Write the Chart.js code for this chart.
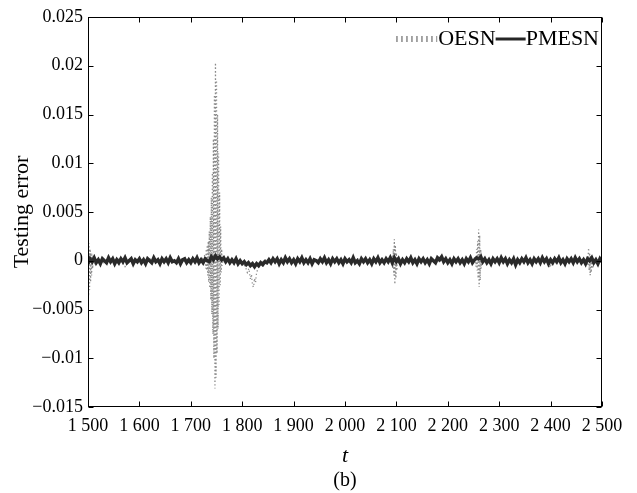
<!DOCTYPE html>
<html lang="en">
<head>
<meta charset="UTF-8">
<title>Testing error</title>
<style>
  html, body { margin: 0; padding: 0; background: #fff; }
  #wrap { width: 637px; height: 493px; }
</style>
</head>
<body>
<div id="wrap"><canvas id="myChart" width="637" height="493"></canvas></div>
<script src="https://cdn.jsdelivr.net/npm/chart.js@4.4.1/dist/chart.umd.min.js"></script>
<script>
// PMESN testing error, sampled every 4 steps from t = 1500 to 2500
const pmesnStart = 1500, pmesnStep = 4;
const pmesnErr = [
  -0.0003, 0.0002, -0.0001, 0.0003, -0.0002, 0.0001, -0.0003, 0.0002, 0.0000, -0.0002, 0.0003, -0.0001, 0.0002, -0.0003, 0.0001, -0.0002, 0.0002, -0.0001, 0.0003, -0.0002, 0.0000, 0.0002, -0.0003, 0.0001, -0.0001,
  0.0002, -0.0002, 0.0001, -0.0003, 0.0002, 0.0000, -0.0002, 0.0003, -0.0001, 0.0001, -0.0003, 0.0002, -0.0001, 0.0002, -0.0002, 0.0003, -0.0001, 0.0000, -0.0002, 0.0002, -0.0003, 0.0001, 0.0002, -0.0002, 0.0001,
  -0.0002, 0.0002, -0.0001, 0.0003, -0.0002, 0.0001, -0.0002, 0.0002, 0.0000, -0.0001, 0.0004, 0.0001, 0.0005, 0.0002, 0.0004, 0.0001, 0.0003, -0.0001, 0.0002, -0.0002, 0.0001, -0.0002, 0.0002, -0.0003, 0.0000,
  -0.0003, -0.0001, -0.0004, -0.0002, -0.0005, -0.0003, -0.0006, -0.0003, -0.0005, -0.0002, -0.0004, -0.0001, -0.0002, 0.0001, -0.0002, 0.0002, -0.0001, 0.0002, -0.0003, 0.0001, -0.0002, 0.0003, -0.0001, 0.0002, -0.0002,
  0.0001, -0.0003, 0.0002, -0.0001, 0.0003, -0.0002, 0.0001, -0.0002, 0.0002, -0.0003, 0.0001, 0.0000, -0.0002, 0.0002, -0.0001, 0.0003, -0.0002, 0.0001, -0.0003, 0.0002, -0.0001, 0.0002, -0.0002, 0.0001, -0.0003,
  0.0002, -0.0001, 0.0001, -0.0002, 0.0003, -0.0002, 0.0000, -0.0003, 0.0002, -0.0001, 0.0002, -0.0002, 0.0001, -0.0003, 0.0002, -0.0001, 0.0003, -0.0002, 0.0001, -0.0002, 0.0002, -0.0001, 0.0003, -0.0002, 0.0003,
  -0.0001, 0.0002, -0.0003, 0.0001, -0.0002, 0.0002, -0.0001, 0.0003, -0.0002, 0.0001, -0.0003, 0.0002, -0.0001, 0.0002, -0.0002, 0.0001, -0.0003, 0.0002, 0.0000, -0.0002, 0.0003, 0.0001, 0.0004, -0.0001, 0.0002,
  -0.0002, 0.0001, -0.0003, 0.0002, -0.0001, 0.0002, -0.0002, 0.0001, -0.0003, 0.0002, -0.0001, 0.0003, -0.0002, 0.0001, 0.0003, 0.0002, 0.0004, -0.0001, 0.0002, -0.0002, 0.0001, -0.0003, 0.0002, -0.0001, 0.0002,
  -0.0002, 0.0003, -0.0001, 0.0002, -0.0003, 0.0001, -0.0002, 0.0002, -0.0004, 0.0001, -0.0002, 0.0002, -0.0001, 0.0003, -0.0002, 0.0001, -0.0003, 0.0002, -0.0001, 0.0002, -0.0002, 0.0003, -0.0001, 0.0002, -0.0003,
  0.0001, -0.0002, 0.0002, -0.0001, 0.0003, -0.0002, 0.0001, -0.0003, 0.0002, -0.0001, 0.0002, -0.0002, 0.0003, -0.0001, 0.0002, -0.0002, 0.0001, -0.0003, 0.0002, 0.0000, 0.0003, -0.0002, 0.0001, -0.0003, 0.0002,
  -0.0001
];

// OESN testing error: sparse where it is quiet, every step around the bursts
const oesnT = [
  1500, 1501, 1502, 1503, 1504, 1505, 1506, 1507, 1508, 1509, 1510, 1512,
  1520, 1530, 1540, 1550, 1560, 1572, 1580, 1590, 1600, 1610, 1620, 1630, 1640, 1650, 1660, 1670, 1680, 1690, 1700, 1710, 1720,
  1728, 1729, 1730, 1731, 1732, 1733, 1734, 1735, 1736, 1737, 1738, 1739, 1740, 1741, 1742, 1743, 1744, 1745, 1746, 1747, 1748, 1749, 1750, 1751, 1752, 1753, 1754, 1755, 1756, 1757, 1758, 1759, 1760, 1761, 1763,
  1770, 1780, 1790, 1800, 1806, 1810, 1813, 1816, 1818, 1820, 1822, 1824, 1826, 1828, 1831, 1835, 1845, 1855,
  1865, 1875, 1885, 1895, 1905, 1915, 1925, 1935, 1945, 1955, 1965, 1975, 1985, 1995, 2005, 2015, 2025, 2035, 2045, 2055, 2065, 2075, 2085,
  2092, 2093, 2094, 2095, 2096, 2097, 2098, 2099, 2100, 2101, 2102, 2104,
  2110, 2120, 2130, 2140, 2150, 2160, 2170, 2180, 2190, 2200, 2210, 2220, 2230, 2240, 2248,
  2254, 2255, 2256, 2257, 2258, 2259, 2260, 2261, 2262, 2263, 2264, 2265, 2266, 2268,
  2275, 2285, 2295, 2305, 2315, 2325, 2335, 2345, 2355, 2365, 2375, 2385, 2395, 2399, 2403,
  2410, 2420, 2430, 2440, 2450, 2460, 2470, 2472, 2474, 2475, 2476, 2477, 2478, 2479, 2480, 2482, 2485, 2490, 2495, 2500
];
const oesnErr = [
  0.0025, -0.0036, 0.0018, -0.0030, 0.0012, -0.0022, 0.0008, -0.0015, 0.0004, -0.0008, 0.0002, -0.0004,
  0.0001, -0.0002, 0.0002, -0.0001, 0.0002, -0.0006, 0.0001, -0.0002, 0.0001, -0.0002, 0.0002, -0.0001, 0.0001, -0.0002, 0.0002, -0.0001, 0.0002, -0.0002, 0.0001, -0.0002, 0.0001,
  0.0006, -0.0008, 0.0012, -0.0010, 0.0016, -0.0015, 0.0020, -0.0022, 0.0030, -0.0028, 0.0045, -0.0040, 0.0065, -0.0055, 0.0090, -0.0075, 0.0125, -0.0100, 0.0170, -0.0131, 0.0203, -0.0120, 0.0185, -0.0095, 0.0150, -0.0070, 0.0110, -0.0045, 0.0070, -0.0025, 0.0035, -0.0012, 0.0012, -0.0005, 0.0002,
  0.0002, -0.0001, 0.0002, -0.0002, -0.0006, -0.0012, -0.0008, -0.0019, -0.0014, -0.0025, -0.0027, -0.0018, -0.0022, -0.0012, -0.0008, -0.0003, 0.0001, -0.0002,
  0.0001, -0.0002, 0.0002, -0.0001, 0.0001, -0.0002, 0.0002, -0.0001, 0.0002, -0.0002, 0.0001, -0.0001, 0.0002, -0.0002, 0.0001, -0.0002, 0.0002, -0.0001, 0.0001, -0.0002, 0.0002, -0.0001, 0.0001,
  0.0004, -0.0008, 0.0012, -0.0015, 0.0022, -0.0024, 0.0016, -0.0018, 0.0008, -0.0010, 0.0004, -0.0002,
  0.0001, -0.0002, 0.0002, -0.0001, 0.0001, -0.0002, 0.0002, -0.0001, 0.0002, -0.0002, 0.0001, -0.0002, 0.0002, -0.0001, 0.0001,
  0.0004, -0.0006, 0.0012, -0.0010, 0.0020, -0.0018, 0.0032, -0.0027, 0.0026, -0.0020, 0.0012, -0.0008, 0.0004, -0.0002,
  0.0001, -0.0002, 0.0002, -0.0001, 0.0001, -0.0002, 0.0002, -0.0001, 0.0002, -0.0002, 0.0001, -0.0002, 0.0001, -0.0007, 0.0001,
  -0.0002, 0.0002, -0.0001, 0.0001, -0.0002, 0.0002, 0.0002, -0.0005, 0.0013, -0.0010, 0.0008, -0.0015, 0.0006, -0.0012, 0.0003, -0.0008, 0.0002, -0.0002, 0.0001, 0.0001
];

const seriesNames = ['OESN', 'PMESN'];
const yTicks = { min: -0.015, max: 0.025, step: 0.005 };
const xTicks = { min: 1500, max: 2500, step: 100 };
const panelLabel = '(b)';

const FONT = "'Liberation Serif', 'Times New Roman', serif";

const pmesnPts = pmesnErr.map((v, i) => ({ x: pmesnStart + i * pmesnStep, y: v }));
const oesnPts = oesnT.map((t, i) => ({ x: t, y: oesnErr[i] }));

const fmtY = v => {
  const r = Math.round(v * 1000) / 1000;
  if (r === 0) return '0';
  return (r < 0 ? '\u2212' : '') + String(Math.abs(r));
};
const fmtX = v => String(Math.round(v)).replace(/\B(?=(\d{3})+(?!\d))/g, ' ');

// box, inward ticks on all four sides, legend inside the axes and the panel label
const frame = {
  id: 'frame',
  afterDatasetsDraw(chart) {
    const { ctx, chartArea: a, scales: { x, y } } = chart;
    const L = Math.round(a.left) + 0.5, R = Math.round(a.right) - 0.5;
    const T = Math.round(a.top) + 0.5, B = Math.round(a.bottom) - 0.5;
    ctx.save();
    ctx.strokeStyle = '#000';
    ctx.lineWidth = 1;
    ctx.strokeRect(L, T, R - L, B - T);
    ctx.beginPath();
    x.ticks.forEach(t => {
      const px = Math.round(x.getPixelForValue(t.value)) + 0.5;
      ctx.moveTo(px, B); ctx.lineTo(px, B - 5);
      ctx.moveTo(px, T); ctx.lineTo(px, T + 5);
    });
    y.ticks.forEach(t => {
      const py = Math.round(y.getPixelForValue(t.value)) + 0.5;
      ctx.moveTo(L, py); ctx.lineTo(L + 5, py);
      ctx.moveTo(R, py); ctx.lineTo(R - 5, py);
    });
    ctx.stroke();

    // legend
    ctx.font = '22px ' + FONT;
    ctx.fillStyle = '#000';
    ctx.textBaseline = 'middle';
    const ly = a.top + 22;
    let xr = a.right - 3;
    const wP = ctx.measureText(seriesNames[1]).width;
    const wO = ctx.measureText(seriesNames[0]).width;
    xr -= wP;
    ctx.fillText(seriesNames[1], xr, ly);
    ctx.lineWidth = 3;
    ctx.strokeStyle = '#262626';
    ctx.beginPath(); ctx.moveTo(xr - 30, ly); ctx.lineTo(xr, ly); ctx.stroke();
    xr -= 30 + wO;
    ctx.fillText(seriesNames[0], xr, ly);
    ctx.lineWidth = 6;
    ctx.strokeStyle = '#8a8a8a';
    ctx.setLineDash([1.5, 3.5]);
    ctx.beginPath(); ctx.moveTo(xr - 42, ly); ctx.lineTo(xr - 1, ly); ctx.stroke();
    ctx.setLineDash([]);

    // panel label under the axis title
    ctx.font = '20px ' + FONT;
    ctx.textAlign = 'center';
    ctx.fillText(panelLabel, (a.left + a.right) / 2, 481);
    ctx.restore();
  }
};

new Chart(document.getElementById('myChart'), {
  type: 'line',
  data: {
    datasets: [
      {
        label: seriesNames[1],
        data: pmesnPts,
        borderColor: '#2a2a2a',
        borderWidth: 3.5,
        pointRadius: 0,
        tension: 0
      },
      {
        label: seriesNames[0],
        data: oesnPts,
        borderColor: '#8a8a8a',
        borderWidth: 1.3,
        borderDash: [1.2, 2.4],
        pointRadius: 0,
        tension: 0
      }
    ]
  },
  options: {
    responsive: false,
    animation: false,
    events: [],
    layout: { padding: { left: 0, right: 35, top: 17, bottom: 24 } },
    plugins: {
      legend: { display: false },
      tooltip: { enabled: false },
      title: { display: false }
    },
    scales: {
      x: {
        type: 'linear',
        min: xTicks.min,
        max: xTicks.max,
        grid: { display: false, drawTicks: false },
        border: { display: false },
        ticks: {
          stepSize: xTicks.step,
          autoSkip: false,
          maxRotation: 0,
          padding: 8,
          color: '#000',
          font: { family: FONT, size: 18 },
          callback: v => fmtX(v)
        },
        title: {
          display: true,
          text: 't',
          color: '#000',
          font: { family: FONT, size: 22, style: 'italic' },
          padding: { top: 0, bottom: 0 }
        },
        afterFit: s => { s.height = 62; }
      },
      y: {
        min: yTicks.min,
        max: yTicks.max,
        grid: { display: false, drawTicks: false },
        border: { display: false },
        ticks: {
          stepSize: yTicks.step,
          padding: 5,
          color: '#000',
          font: { family: FONT, size: 18 },
          callback: v => fmtY(v)
        },
        title: {
          display: true,
          text: 'Testing error',
          color: '#000',
          font: { family: FONT, size: 22 },
          padding: { top: 9, bottom: 0 }
        },
        afterFit: s => { s.width = 88; }
      }
    }
  },
  plugins: [frame]
});
</script>
</body>
</html>
